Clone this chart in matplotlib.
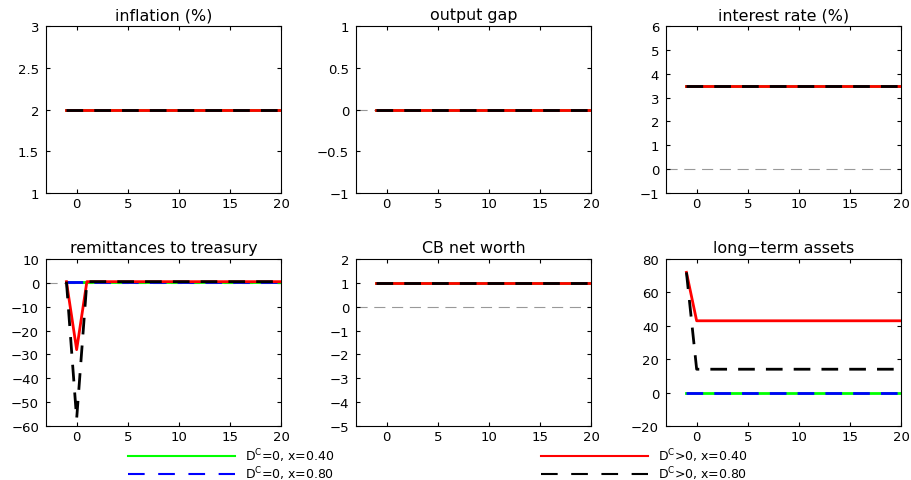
import numpy as np
import matplotlib
matplotlib.use('Agg')
import matplotlib.pyplot as plt
from matplotlib.lines import Line2D
from matplotlib.ticker import FuncFormatter

plt.rcParams['font.family'] = ['DejaVu Sans']
plt.rcParams['mathtext.fontset'] = 'dejavusans'
plt.rcParams['font.size'] = 9.5

# horizon: period -1 to 20
t = list(range(-1, 21))
n = len(t)

# series per panel: (green D=0 x=.4, blue D=0 x=.8, red D>0 x=.4, black D>0 x=.8)
inflation = [[2.0] * n] * 4
output_gap = [[0.0] * n] * 4
interest = [[3.5] * n] * 4
remit_green = [0.5] * n
remit_blue = [0.5] * n
remit_red = [0.5, -28] + [0.5] * (n - 2)
remit_black = [0.5, -57] + [0.5] * (n - 2)
networth = [[1.0] * n] * 4
lta_green = [0.0] * n
lta_blue = [0.0] * n
lta_red = [72, 43] + [43] * (n - 2)
lta_black = [72, 14] + [14] * (n - 2)

titles = ['inflation (%)', 'output gap', 'interest rate (%)',
          'remittances to treasury', 'CB net worth', 'long\u2212term assets']
panels = [inflation, output_gap, interest,
          [remit_green, remit_blue, remit_red, remit_black],
          networth,
          [lta_green, lta_blue, lta_red, lta_black]]
ylims = [(1, 3), (-1, 1), (-1, 6), (-60, 10), (-5, 2), (-20, 80)]
yticks = [np.arange(1, 3.01, 0.5), np.arange(-1, 1.01, 0.5), np.arange(-1, 6.1, 1),
          np.arange(-60, 10.1, 10), np.arange(-5, 2.1, 1), np.arange(-20, 80.1, 20)]
labels = ['D$^{\\mathrm{C}}$=0, x=0.40', 'D$^{\\mathrm{C}}$=0, x=0.80',
          'D$^{\\mathrm{C}}$>0, x=0.40', 'D$^{\\mathrm{C}}$>0, x=0.80']
colors = ['#00ff00', '#0000ff', '#ff0000', 'black']
dashed = [False, True, False, True]

fmt = FuncFormatter(lambda v, p: ('%g' % v).replace('-', '\u2212'))

fig = plt.figure(figsize=(9.12, 4.81), dpi=100)
W, H = 912, 481
lefts = [46, 356, 666]
tops = [27, 260]
aw, ah = 235, 167

for i in range(6):
    r, c = divmod(i, 3)
    ax = fig.add_axes([lefts[c] / W, 1 - (tops[r] + ah) / H, aw / W, ah / H])
    if i != 5:
        ax.axhline(0, color='#999999', ls=(0, (10, 6)), lw=0.8, zorder=1)
    for j, y in enumerate(panels[i]):
        ax.plot(t, y, lw=2, color=colors[j], zorder=2 + j,
                ls=(0, (6, 4)) if dashed[j] else '-')
    ax.set_xlim(-3, 20)
    ax.set_ylim(*ylims[i])
    ax.set_xticks([0, 5, 10, 15, 20])
    ax.set_yticks(yticks[i])
    ax.xaxis.set_major_formatter(fmt)
    ax.yaxis.set_major_formatter(fmt)
    ax.tick_params(direction='in', top=True, right=True, length=3, pad=5)
    ax.tick_params(axis='x', pad=3)
    ax.set_title(titles[i], pad=5)

proxies = [Line2D([], [], color=colors[j], lw=1.5,
                  ls=(0, (8, 6.5)) if dashed[j] else '-') for j in range(4)]
for k, x0 in enumerate([128, 541]):
    fig.legend(proxies[2 * k:2 * k + 2], labels[2 * k:2 * k + 2], loc='center left',
               bbox_to_anchor=(x0 / W, 1 - 465 / H), frameon=False, fontsize=9,
               handlelength=8.6, handletextpad=0.75, labelspacing=0.0,
               borderaxespad=0, borderpad=0)

fig.savefig('out.png', dpi=100)
